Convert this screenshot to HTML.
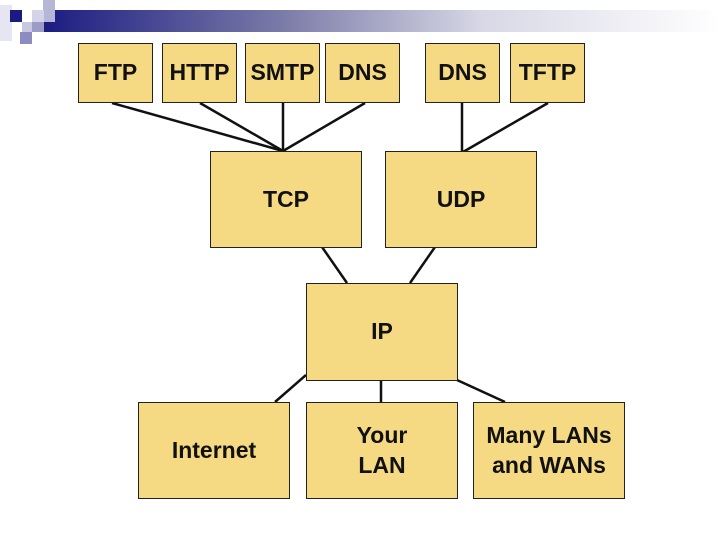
<!DOCTYPE html>
<html><head><style>
body{margin:0;width:720px;height:540px;background:#fff;position:relative;overflow:hidden;font-family:"Liberation Sans",sans-serif}
.b{position:absolute;background:#f5d983;border:1px solid #222;box-sizing:border-box;display:flex;align-items:center;justify-content:center;text-align:center;font-weight:bold;font-size:23px;color:#111;line-height:1.3}
.s{position:absolute}
</style></head><body>
<div class="s" style="left:0;top:5px;width:12px;height:36px;background:#e6e6f2"></div>
<div class="s" style="left:44px;top:10px;width:676px;height:22px;background:linear-gradient(to right,#1c1c82,#7a7aa8 35%,#d8d8e6 65%,#fff)"></div>
<div class="s" style="left:43px;top:0;width:12px;height:22px;background:#b6b6d6"></div>
<div class="s" style="left:32px;top:10px;width:12px;height:12px;background:#d4d4e8"></div>
<div class="s" style="left:10px;top:10px;width:12px;height:12px;background:#1a1a80"></div>
<div class="s" style="left:22px;top:22px;width:10px;height:10px;background:#c8c8e0"></div>
<div class="s" style="left:32px;top:22px;width:12px;height:10px;background:#9c9cc6"></div>
<div class="s" style="left:20px;top:32px;width:12px;height:12px;background:#8c8cc0"></div>
<svg class="s" style="left:0;top:0" width="720" height="540">
<g stroke="#111" stroke-width="2.5" fill="none">
<line x1="112" y1="103" x2="283" y2="151"/>
<line x1="200" y1="103" x2="283" y2="151"/>
<line x1="283" y1="103" x2="283" y2="151"/>
<line x1="365" y1="103" x2="283" y2="151"/>
<line x1="462" y1="103" x2="462" y2="152"/>
<line x1="548" y1="103" x2="463" y2="152"/>
<line x1="322" y1="247" x2="347" y2="283"/>
<line x1="435" y1="247" x2="410" y2="283"/>
<line x1="306" y1="375" x2="275" y2="402"/>
<line x1="381" y1="380" x2="381" y2="402"/>
<line x1="457" y1="380" x2="505" y2="402"/>
</g></svg>
<div class="b" style="left:78px;top:43px;width:75px;height:60px">FTP</div>
<div class="b" style="left:162px;top:43px;width:75px;height:60px">HTTP</div>
<div class="b" style="left:245px;top:43px;width:75px;height:60px">SMTP</div>
<div class="b" style="left:325px;top:43px;width:75px;height:60px">DNS</div>
<div class="b" style="left:425px;top:43px;width:75px;height:60px">DNS</div>
<div class="b" style="left:510px;top:43px;width:75px;height:60px">TFTP</div>
<div class="b" style="left:210px;top:151px;width:152px;height:97px">TCP</div>
<div class="b" style="left:385px;top:151px;width:152px;height:97px">UDP</div>
<div class="b" style="left:306px;top:283px;width:152px;height:98px">IP</div>
<div class="b" style="left:138px;top:402px;width:152px;height:97px">Internet</div>
<div class="b" style="left:306px;top:402px;width:152px;height:97px">Your<br>LAN</div>
<div class="b" style="left:473px;top:402px;width:152px;height:97px">Many LANs<br>and WANs</div>
</body></html>
